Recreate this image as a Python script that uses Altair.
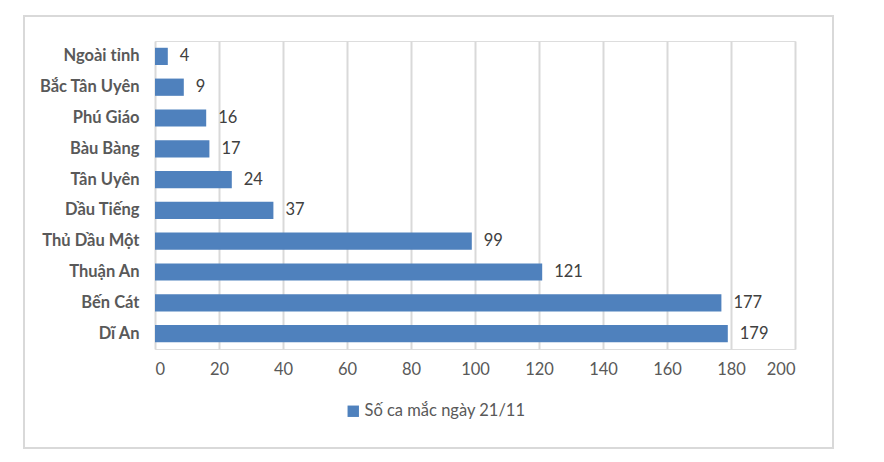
import altair as alt
import pandas as pd

categories = ["Ngoài tỉnh", "Bắc Tân  Uyên", "Phú Giáo", "Bàu Bàng", "Tân  Uyên",
              "Dầu Tiếng", "Thủ Dầu Một", "Thuận An", "Bến Cát", "Dĩ An"]
values = [4, 9, 16, 17, 24, 37, 99, 121, 177, 179]
series_name = "Số ca mắc ngày 21/11"
x_ticks = [0, 20, 40, 60, 80, 100, 120, 140, 160, 180, 200]

df = pd.DataFrame({"cat": categories, "val": values, "series": series_name})

FONT = "Lato"
GRID = "#D9D9D9"
TEXT = "#595959"
BAR = "#4F81BD"

base = alt.Chart(df)

y_enc = alt.Y("cat:N", sort=categories, title=None,
              scale=alt.Scale(paddingInner=0.44, paddingOuter=0.22),
              axis=alt.Axis(domain=False, ticks=False, labelFontWeight="bold",
                            labelFontSize=16.5, labelColor=TEXT, labelFont=FONT,
                            labelPadding=16, grid=False, labelLimit=300))
x_enc = alt.X("val:Q", title=None,
              scale=alt.Scale(domain=[0, 200], nice=False),
              axis=alt.Axis(values=x_ticks, domain=False, ticks=False, grid=True,
                            gridColor=GRID, gridWidth=2, labelFontSize=16.5,
                            labelColor=TEXT, labelFont=FONT, labelPadding=12))

bars = base.mark_bar(color=BAR).encode(
    x=x_enc, y=y_enc,
    color=alt.Color("series:N", scale=alt.Scale(range=[BAR]), title=None,
                    legend=alt.Legend(orient="none", legendX=190, legendY=362,
                                      direction="horizontal", symbolType="square",
                                      symbolSize=130, symbolStrokeWidth=0,
                                      labelFontSize=16.5, labelColor=TEXT,
                                      labelFont=FONT, labelOffset=3,
                                      labelLimit=400)),
)

labels = base.mark_text(align="left", baseline="middle", dx=12, fontSize=16.5,
                        font=FONT, color="#404040").encode(
    x=alt.X("val:Q"), y=alt.Y("cat:N", sort=categories), text="val:Q")

frame = alt.Chart(pd.DataFrame({"a": [0]})).mark_rect(
    fill=None, stroke=GRID, strokeWidth=2).encode(
    x=alt.value(-131), x2=alt.value(678), y=alt.value(-25), y2=alt.value(407))

chart = alt.layer(frame, bars, labels).properties(
    width=640, height=308,
    autosize=alt.AutoSizeParams(type="none"),
    padding={"left": 155, "top": 41, "right": 89, "bottom": 113},
).configure_view(stroke=None).configure(background="white")

chart.save("out.html", embed_options={"renderer": "svg", "actions": False})
